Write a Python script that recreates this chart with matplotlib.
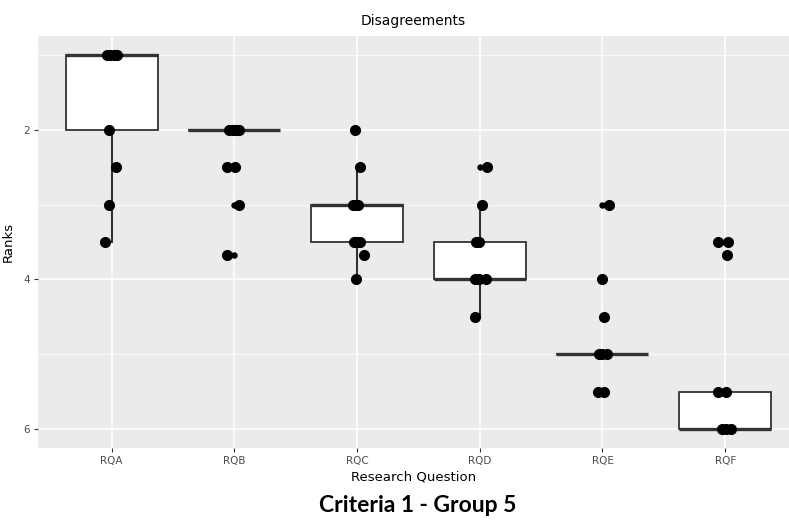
import matplotlib
matplotlib.use("Agg")
from matplotlib import pyplot as plt

# research questions on the x axis
questions = ["RQA", "RQB", "RQC", "RQD", "RQE", "RQF"]

# ranks given by the raters, one list per question
rqa = [1, 1, 1, 1, 2, 2.5, 3, 3.5]
rqb = [2, 2, 2, 2, 2.5, 2.5, 3, 3.67]
rqc = [2, 2.5, 3, 3, 3, 3.5, 3.5, 3.5, 3.67, 4]
rqd = [2.5, 3, 3.5, 3.5, 4, 4, 4, 4.5]
rqe = [3, 4, 4.5, 5, 5, 5, 5.5, 5.5]
rqf = [3.5, 3.5, 3.67, 5.5, 5.5, 6, 6, 6]

# horizontal jitter of each point (category units)
jit_a = [-0.04, -0.016, 0.016, 0.04, -0.025, 0.033, -0.025, -0.057]
jit_b = [-0.04, -0.01, 0.015, 0.04, -0.057, 0.008, 0.04, -0.057]
jit_c = [-0.016, 0.025, -0.035, -0.01, 0.01, -0.025, 0.0, 0.025, 0.057, -0.008]
jit_d = [0.057, 0.016, -0.03, -0.01, -0.04, -0.01, 0.05, -0.04]
jit_e = [0.05, 0.0, 0.016, -0.025, 0.0, 0.04, -0.033, 0.016]
jit_f = [-0.057, 0.025, 0.016, -0.057, 0.008, -0.025, 0.01, 0.05]

# box statistics per question
q1 = [1, 2, 3, 3.5, 5, 5.5]
med = [1, 2, 3, 4, 5, 6]
q3 = [2, 2, 3.5, 4, 5, 6]
whislo = [1, 2, 2.5, 3, 5, 5.5]
whishi = [3.5, 2, 4, 4.5, 5, 6]
fliers = [[], [2.5, 3, 3.67], [2], [2.5], [3, 4, 4.5, 5.5], [3.5, 3.67]]

ranks = [rqa, rqb, rqc, rqd, rqe, rqf]
jitter = [jit_a, jit_b, jit_c, jit_d, jit_e, jit_f]

stats = []
for i in range(len(questions)):
    stats.append({"q1": q1[i], "med": med[i], "q3": q3[i],
                  "whislo": whislo[i], "whishi": whishi[i],
                  "fliers": fliers[i]})

fig = plt.figure(figsize=(7.89, 5.2), dpi=100)
ax = fig.add_axes([38 / 789, 1 - 448 / 520, 751 / 789, 412 / 520])
ax.set_facecolor("#EBEBEB")

pos = list(range(1, len(questions) + 1))
edge = "#333333"
ax.bxp(stats, positions=pos, widths=0.75, patch_artist=True, showcaps=False,
       boxprops=dict(facecolor="white", edgecolor=edge, linewidth=1.3),
       medianprops=dict(color=edge, linewidth=2.4),
       whiskerprops=dict(color=edge, linewidth=1.5),
       flierprops=dict(marker="o", markerfacecolor="black", markeredgecolor="black",
                       markersize=3.6, linestyle="none"),
       zorder=2)

# jittered points on top of the boxes
for p, vals, jx in zip(pos, ranks, jitter):
    xs = [p + j for j in jx]
    ax.plot(xs, vals, "o", color="black", markersize=7, zorder=3)

ax.set_xlim(0.4, 6.52)
ax.set_ylim(6.25, 0.75)
ax.set_xticks(pos)
ax.set_xticklabels(questions)
ax.set_yticks([2, 4, 6])
ax.set_yticks([1, 3, 5], minor=True)
ax.grid(which="major", color="white", linewidth=1.1, zorder=0)
ax.grid(which="minor", axis="y", color="white", linewidth=0.55, zorder=0)
ax.set_axisbelow(True)
for s in ax.spines.values():
    s.set_visible(False)
ax.tick_params(which="major", length=3, width=0.8, color=edge,
               labelcolor="#4D4D4D", labelsize=7.5, pad=3)
ax.tick_params(which="minor", length=0)

ax.set_title("Disagreements", fontsize=10, pad=8)
ax.set_xlabel("Research Question", fontsize=9.5, labelpad=3)
ax.set_ylabel("Ranks", fontsize=9.5, labelpad=6)

fig.text(0.529, 1 - 505 / 520, "Criteria 1 - Group 5", ha="center", va="center",
         fontsize=16.5, fontweight="bold", family=["Lato", "DejaVu Sans"])

fig.savefig("out.png", dpi=100)
